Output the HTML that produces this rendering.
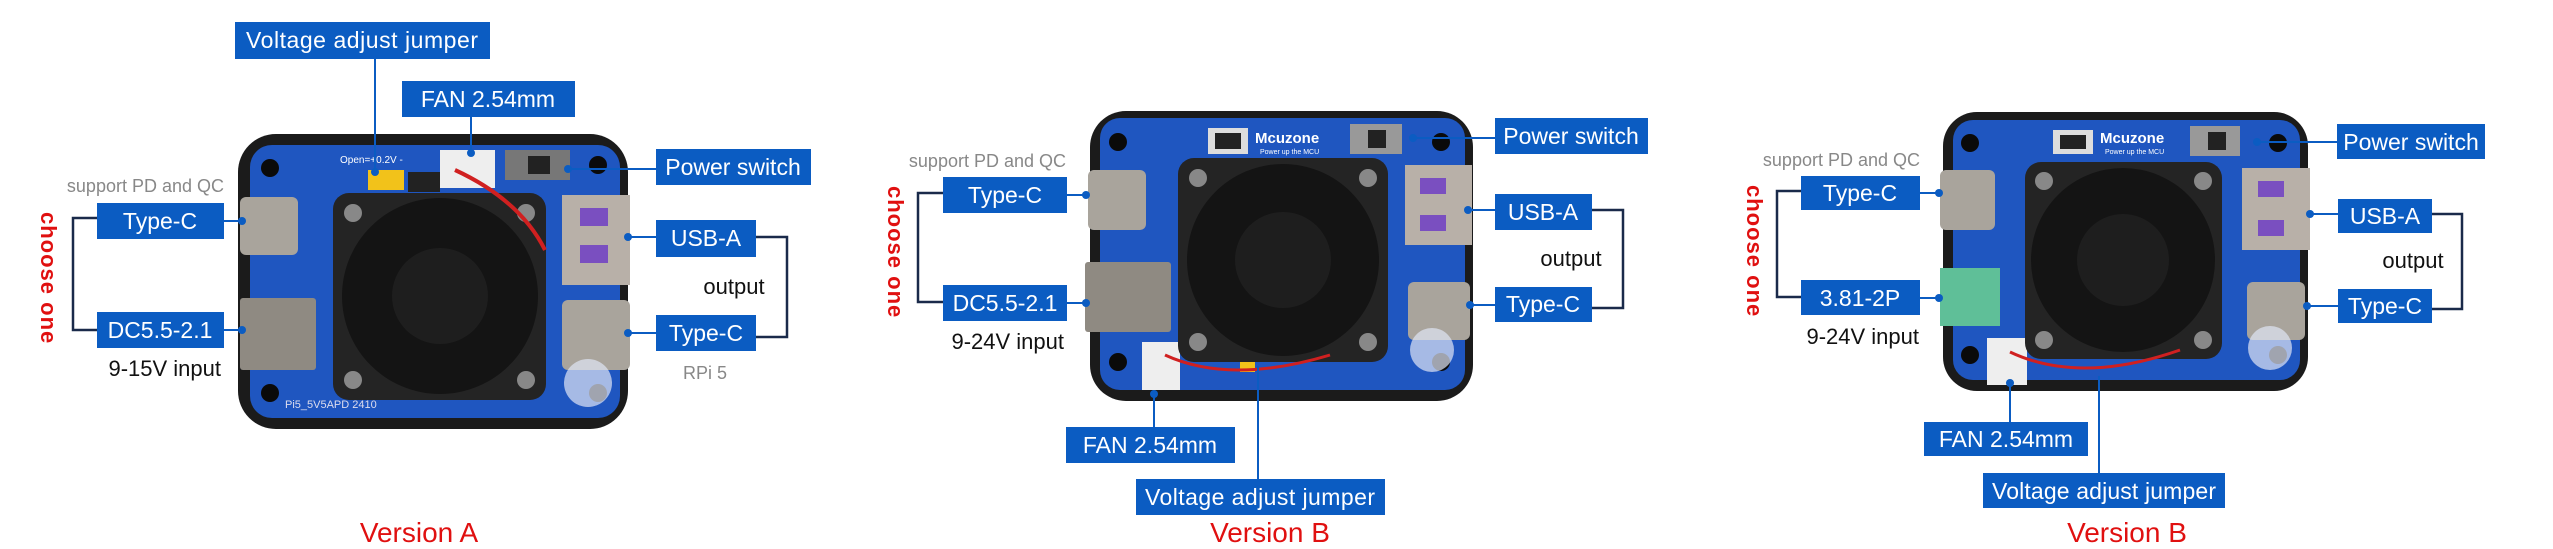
<!DOCTYPE html>
<html><head><meta charset="utf-8"><style>
html,body{margin:0;padding:0;background:#fff;}
svg{display:block;}
text{font-family:"Liberation Sans",sans-serif;}
.bx{fill:#0b5cc2;}
.bt{fill:#fff;font-size:23px;}
.ln{stroke:#0b5cc2;stroke-width:2;fill:none;}
.br{stroke:#1a2a4a;stroke-width:2.5;fill:none;}
.dk{fill:#111;font-size:22px;}
.gr{fill:#888;font-size:18px;}
.rd{fill:#e01010;}
</style></head><body>
<svg width="2553" height="549" viewBox="0 0 2553 549" xmlns="http://www.w3.org/2000/svg">
<defs>
<g id="fan">
</g>
</defs>

<!-- ================= PANEL A ================= -->
<rect x="238" y="134" width="390" height="295" rx="38" fill="#1b1b1b"/>
<rect x="250" y="145" width="370" height="273" rx="22" fill="#1f56c0"/>
<circle cx="270" cy="168" r="9" fill="#0a0a0a"/><circle cx="598" cy="165" r="9" fill="#0a0a0a"/>
<circle cx="270" cy="393" r="9" fill="#0a0a0a"/><circle cx="598" cy="393" r="9" fill="#0a0a0a"/>
<text x="340" y="163" fill="#fff" font-size="10">Open=+0.2V -</text>
<rect x="368" y="170" width="36" height="20" fill="#f2c21a"/>
<rect x="408" y="172" width="32" height="20" fill="#222"/>
<rect x="440" y="150" width="55" height="38" fill="#eee"/>
<rect x="505" y="150" width="65" height="30" fill="#777"/><rect x="528" y="156" width="22" height="18" fill="#222"/>
<rect x="240" y="197" width="58" height="58" rx="6" fill="#a9a49c"/>
<rect x="240" y="298" width="76" height="72" rx="3" fill="#8f8a82"/>
<rect x="562" y="195" width="68" height="90" fill="#b8b0a8"/>
<rect x="580" y="208" width="28" height="18" fill="#7a4fc0"/><rect x="580" y="245" width="28" height="18" fill="#7a4fc0"/>
<rect x="562" y="300" width="68" height="70" rx="6" fill="#a9a49c"/>
<text x="285" y="408" fill="#dde" font-size="11">Pi5_5V5APD 2410</text>
<circle cx="588" cy="383" r="24" fill="#dfe6f5" opacity="0.7"/>
<rect x="333" y="193" width="213" height="207" rx="16" fill="#242424"/>
<circle cx="440" cy="296" r="98" fill="#141414"/>
<circle cx="440" cy="296" r="48" fill="#1e1e1e"/>
<circle cx="353" cy="213" r="9" fill="#888"/><circle cx="526" cy="213" r="9" fill="#888"/>
<circle cx="353" cy="380" r="9" fill="#888"/><circle cx="526" cy="380" r="9" fill="#888"/>
<path d="M455 170 Q520 200 545 250" stroke="#d02020" stroke-width="4" fill="none"/>

<!-- A labels -->
<rect class="bx" x="235" y="22" width="255" height="37"/>
<text class="bt" x="362" y="48" text-anchor="middle" textLength="232">Voltage adjust jumper</text>
<line class="ln" x1="375" y1="59" x2="375" y2="172"/><circle cx="375" cy="172" r="4" fill="#0b5cc2"/>
<rect class="bx" x="402" y="81" width="173" height="36"/>
<text class="bt" x="488" y="107" text-anchor="middle">FAN 2.54mm</text>
<line class="ln" x1="471" y1="117" x2="471" y2="153"/><circle cx="471" cy="153" r="4" fill="#0b5cc2"/>
<rect class="bx" x="656" y="149" width="155" height="36"/>
<text class="bt" x="733" y="175" text-anchor="middle">Power switch</text>
<line class="ln" x1="568" y1="169" x2="656" y2="169"/><circle cx="568" cy="169" r="4" fill="#0b5cc2"/>
<text class="gr" x="224" y="192" text-anchor="end">support PD and QC</text>
<rect class="bx" x="97" y="203" width="127" height="36"/>
<text class="bt" x="160" y="229" text-anchor="middle">Type-C</text>
<line class="ln" x1="224" y1="221" x2="242" y2="221"/><circle cx="242" cy="221" r="4" fill="#0b5cc2"/>
<rect class="bx" x="97" y="312" width="127" height="36"/>
<text class="bt" x="160" y="338" text-anchor="middle">DC5.5-2.1</text>
<line class="ln" x1="224" y1="330" x2="242" y2="330"/><circle cx="242" cy="330" r="4" fill="#0b5cc2"/>
<polyline class="br" points="97,218 73,218 73,330 97,330"/>
<text class="rd" x="0" y="0" font-size="22" font-weight="bold" transform="translate(41,212) rotate(90)" letter-spacing="1">choose one</text>
<text class="dk" x="221" y="376" text-anchor="end">9-15V input</text>
<rect class="bx" x="656" y="220" width="100" height="37"/>
<text class="bt" x="706" y="246" text-anchor="middle">USB-A</text>
<line class="ln" x1="628" y1="237" x2="656" y2="237"/><circle cx="628" cy="237" r="4" fill="#0b5cc2"/>
<rect class="bx" x="656" y="315" width="100" height="36"/>
<text class="bt" x="706" y="341" text-anchor="middle">Type-C</text>
<line class="ln" x1="628" y1="333" x2="656" y2="333"/><circle cx="628" cy="333" r="4" fill="#0b5cc2"/>
<polyline class="br" points="756,237 787,237 787,337 756,337"/>
<text class="dk" x="734" y="294" text-anchor="middle">output</text>
<text class="gr" x="683" y="379">RPi 5</text>
<text class="rd" x="419" y="542" font-size="28" text-anchor="middle">Version A</text>

<!-- ================= PANEL B ================= -->
<rect x="1090" y="111" width="383" height="290" rx="36" fill="#1b1b1b"/>
<rect x="1100" y="118" width="365" height="272" rx="20" fill="#1f56c0"/>
<circle cx="1118" cy="142" r="9" fill="#0a0a0a"/><circle cx="1441" cy="142" r="9" fill="#0a0a0a"/>
<circle cx="1118" cy="362" r="9" fill="#0a0a0a"/><circle cx="1441" cy="362" r="9" fill="#0a0a0a"/>
<rect x="1208" y="128" width="40" height="26" fill="#ddd"/><rect x="1215" y="133" width="26" height="16" fill="#222"/>
<text x="1255" y="143" fill="#fff" font-size="15" font-weight="bold">Mcuzone</text>
<text x="1260" y="154" fill="#fff" font-size="7">Power up the MCU</text>
<rect x="1350" y="124" width="52" height="30" fill="#999"/><rect x="1368" y="130" width="18" height="18" fill="#222"/>
<rect x="1088" y="170" width="58" height="60" rx="6" fill="#a9a49c"/>
<rect x="1085" y="262" width="86" height="70" rx="3" fill="#8f8a82"/>
<rect x="1405" y="165" width="67" height="80" fill="#b8b0a8"/>
<rect x="1420" y="178" width="26" height="16" fill="#7a4fc0"/><rect x="1420" y="215" width="26" height="16" fill="#7a4fc0"/>
<rect x="1408" y="282" width="62" height="58" rx="6" fill="#a9a49c"/>
<rect x="1142" y="342" width="38" height="48" fill="#eee"/>
<rect x="1240" y="362" width="15" height="10" fill="#f2c21a"/>
<circle cx="1432" cy="350" r="22" fill="#dfe6f5" opacity="0.7"/>
<rect x="1178" y="158" width="210" height="204" rx="16" fill="#242424"/>
<circle cx="1283" cy="260" r="96" fill="#141414"/>
<circle cx="1283" cy="260" r="48" fill="#1e1e1e"/>
<circle cx="1198" cy="178" r="9" fill="#888"/><circle cx="1368" cy="178" r="9" fill="#888"/>
<circle cx="1198" cy="342" r="9" fill="#888"/><circle cx="1368" cy="342" r="9" fill="#888"/>
<path d="M1165 355 Q1230 385 1330 355" stroke="#d02020" stroke-width="3" fill="none"/>

<rect class="bx" x="1495" y="118" width="153" height="36"/>
<text class="bt" x="1571" y="144" text-anchor="middle">Power switch</text>
<line class="ln" x1="1413" y1="138" x2="1495" y2="138"/><circle cx="1413" cy="138" r="4" fill="#0b5cc2"/>
<text class="gr" x="1066" y="167" text-anchor="end">support PD and QC</text>
<rect class="bx" x="943" y="177" width="124" height="36"/>
<text class="bt" x="1005" y="203" text-anchor="middle">Type-C</text>
<line class="ln" x1="1067" y1="195" x2="1086" y2="195"/><circle cx="1086" cy="195" r="4" fill="#0b5cc2"/>
<rect class="bx" x="943" y="285" width="124" height="36"/>
<text class="bt" x="1005" y="311" text-anchor="middle">DC5.5-2.1</text>
<line class="ln" x1="1067" y1="303" x2="1086" y2="303"/><circle cx="1086" cy="303" r="4" fill="#0b5cc2"/>
<polyline class="br" points="943,193 918,193 918,302 943,302"/>
<text class="rd" x="0" y="0" font-size="22" font-weight="bold" transform="translate(888,186) rotate(90)" letter-spacing="1">choose one</text>
<text class="dk" x="1064" y="349" text-anchor="end">9-24V input</text>
<rect class="bx" x="1495" y="194" width="97" height="36"/>
<text class="bt" x="1543" y="220" text-anchor="middle">USB-A</text>
<line class="ln" x1="1468" y1="210" x2="1495" y2="210"/><circle cx="1468" cy="210" r="4" fill="#0b5cc2"/>
<rect class="bx" x="1495" y="287" width="97" height="35"/>
<text class="bt" x="1543" y="312" text-anchor="middle">Type-C</text>
<line class="ln" x1="1470" y1="305" x2="1495" y2="305"/><circle cx="1470" cy="305" r="4" fill="#0b5cc2"/>
<polyline class="br" points="1592,210 1623,210 1623,308 1592,308"/>
<text class="dk" x="1571" y="266" text-anchor="middle">output</text>
<rect class="bx" x="1066" y="427" width="169" height="36"/>
<text class="bt" x="1150" y="453" text-anchor="middle">FAN 2.54mm</text>
<line class="ln" x1="1154" y1="394" x2="1154" y2="427"/><circle cx="1154" cy="394" r="4" fill="#0b5cc2"/>
<rect class="bx" x="1136" y="479" width="249" height="36"/>
<text class="bt" x="1260" y="505" text-anchor="middle" textLength="230">Voltage adjust jumper</text>
<line class="ln" x1="1258" y1="366" x2="1258" y2="479"/>
<text class="rd" x="1270" y="542" font-size="28" text-anchor="middle">Version B</text>

<!-- ================= PANEL C ================= -->
<rect x="1943" y="112" width="365" height="279" rx="34" fill="#1b1b1b"/>
<rect x="1953" y="120" width="347" height="260" rx="20" fill="#1f56c0"/>
<circle cx="1970" cy="143" r="9" fill="#0a0a0a"/><circle cx="2278" cy="143" r="9" fill="#0a0a0a"/>
<circle cx="1970" cy="355" r="9" fill="#0a0a0a"/><circle cx="2278" cy="355" r="9" fill="#0a0a0a"/>
<rect x="2053" y="130" width="40" height="24" fill="#ddd"/><rect x="2060" y="135" width="26" height="14" fill="#222"/>
<text x="2100" y="143" fill="#fff" font-size="15" font-weight="bold">Mcuzone</text>
<text x="2105" y="154" fill="#fff" font-size="7">Power up the MCU</text>
<rect x="2190" y="126" width="50" height="30" fill="#999"/><rect x="2208" y="132" width="18" height="18" fill="#222"/>
<rect x="1940" y="170" width="55" height="60" rx="6" fill="#a9a49c"/>
<rect x="1940" y="268" width="60" height="58" fill="#5fbf98"/>
<rect x="2242" y="168" width="68" height="82" fill="#b8b0a8"/>
<rect x="2258" y="181" width="26" height="16" fill="#7a4fc0"/><rect x="2258" y="220" width="26" height="16" fill="#7a4fc0"/>
<rect x="2247" y="282" width="58" height="58" rx="6" fill="#a9a49c"/>
<rect x="1987" y="338" width="40" height="47" fill="#eee"/>
<circle cx="2270" cy="348" r="22" fill="#dfe6f5" opacity="0.7"/>
<rect x="2025" y="162" width="197" height="197" rx="16" fill="#242424"/>
<circle cx="2123" cy="260" r="92" fill="#141414"/>
<circle cx="2123" cy="260" r="46" fill="#1e1e1e"/>
<circle cx="2044" cy="181" r="9" fill="#888"/><circle cx="2203" cy="181" r="9" fill="#888"/>
<circle cx="2044" cy="340" r="9" fill="#888"/><circle cx="2203" cy="340" r="9" fill="#888"/>
<path d="M2010 352 Q2080 385 2180 350" stroke="#d02020" stroke-width="3" fill="none"/>

<rect class="bx" x="2337" y="124" width="148" height="35"/>
<text class="bt" x="2411" y="150" text-anchor="middle">Power switch</text>
<line class="ln" x1="2257" y1="142" x2="2337" y2="142"/><circle cx="2257" cy="142" r="4" fill="#0b5cc2"/>
<text class="gr" x="1920" y="166" text-anchor="end">support PD and QC</text>
<rect class="bx" x="1801" y="176" width="119" height="34"/>
<text class="bt" x="1860" y="201" text-anchor="middle">Type-C</text>
<line class="ln" x1="1920" y1="193" x2="1939" y2="193"/><circle cx="1939" cy="193" r="4" fill="#0b5cc2"/>
<rect class="bx" x="1801" y="280" width="119" height="35"/>
<text class="bt" x="1860" y="306" text-anchor="middle">3.81-2P</text>
<line class="ln" x1="1920" y1="298" x2="1939" y2="298"/><circle cx="1939" cy="298" r="4" fill="#0b5cc2"/>
<polyline class="br" points="1801,191 1777,191 1777,297 1801,297"/>
<text class="rd" x="0" y="0" font-size="22" font-weight="bold" transform="translate(1747,185) rotate(90)" letter-spacing="1">choose one</text>
<text class="dk" x="1919" y="344" text-anchor="end">9-24V input</text>
<rect class="bx" x="2338" y="199" width="94" height="34"/>
<text class="bt" x="2385" y="224" text-anchor="middle">USB-A</text>
<line class="ln" x1="2310" y1="214" x2="2338" y2="214"/><circle cx="2310" cy="214" r="4" fill="#0b5cc2"/>
<rect class="bx" x="2338" y="289" width="94" height="34"/>
<text class="bt" x="2385" y="314" text-anchor="middle">Type-C</text>
<line class="ln" x1="2307" y1="306" x2="2338" y2="306"/><circle cx="2307" cy="306" r="4" fill="#0b5cc2"/>
<polyline class="br" points="2432,214 2462,214 2462,309 2432,309"/>
<text class="dk" x="2413" y="268" text-anchor="middle">output</text>
<rect class="bx" x="1924" y="422" width="164" height="34"/>
<text class="bt" x="2006" y="447" text-anchor="middle">FAN 2.54mm</text>
<line class="ln" x1="2010" y1="383" x2="2010" y2="422"/><circle cx="2010" cy="383" r="4" fill="#0b5cc2"/>
<rect class="bx" x="1983" y="473" width="242" height="35"/>
<text class="bt" x="2104" y="499" text-anchor="middle" textLength="224">Voltage adjust jumper</text>
<line class="ln" x1="2099" y1="376" x2="2099" y2="473"/>
<text class="rd" x="2127" y="542" font-size="28" text-anchor="middle">Version B</text>
</svg>
</body></html>
